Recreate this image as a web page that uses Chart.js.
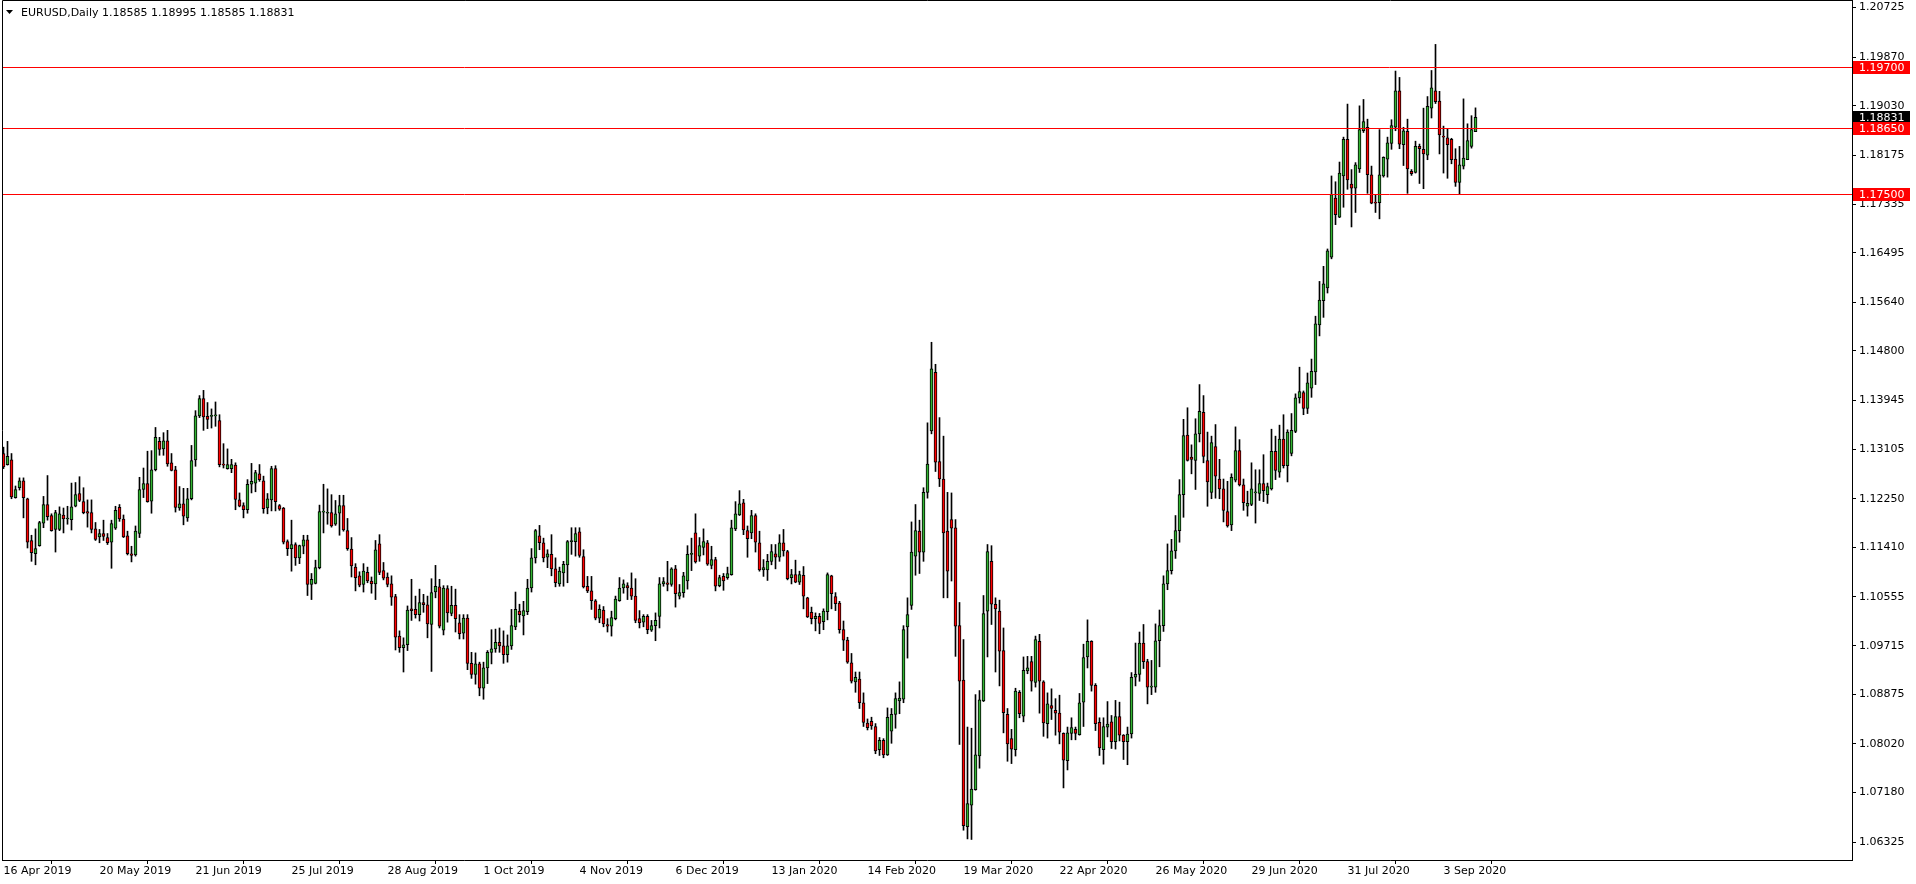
<!DOCTYPE html>
<html><head><meta charset="utf-8">
<script src="https://cdn.jsdelivr.net/npm/chart.js@4.4.1/dist/chart.umd.min.js"></script>
<style>html,body{margin:0;padding:0;background:#fff;overflow:hidden}#wrap{width:1916px;height:884px}</style>
</head><body><div id="wrap"><canvas id="c" width="1916" height="884"></canvas></div>
<script>
const symbolTitle = 'EURUSD,Daily';
const headerValues = '1.18585 1.18995 1.18585 1.18831';

const opens = [
1.1303,1.1284,1.1292,1.1227,1.1244,1.1256,1.1225,1.1153,1.1130,1.1144,
1.1183,1.1215,1.1196,1.1172,1.1172,1.1197,1.1190,1.1189,1.1212,1.1234,
1.1220,1.1203,1.1201,1.1173,1.1159,1.1165,1.1158,1.1150,1.1174,1.1210,
1.1190,1.1161,1.1130,1.1128,1.1165,1.1241,1.1251,1.1221,1.1275,1.1324,
1.1311,1.1325,1.1287,1.1275,1.1209,1.1216,1.1192,1.1225,1.1292,1.1368,
1.1398,1.1367,1.1367,1.1368,1.1360,1.1285,1.1277,1.1277,1.1283,1.1223,
1.1213,1.1206,1.1250,1.1252,1.1268,1.1256,1.1209,1.1223,1.1277,1.1213,
1.1209,1.1151,1.1139,1.1146,1.1123,1.1143,1.1154,1.1077,1.1079,1.1106,
1.1202,1.1200,1.1201,1.1181,1.1200,1.1213,1.1170,1.1138,1.1107,1.1092,
1.1077,1.1098,1.1083,1.1078,1.1147,1.1101,1.1090,1.1078,1.1056,1.0988,
1.0968,1.0973,1.1035,1.1034,1.1025,1.1046,1.1042,1.1008,1.1064,1.1073,
1.0998,1.1070,1.1027,1.1041,1.1011,1.0993,1.1019,1.0941,1.0922,1.0940,
1.0898,1.0933,1.0960,1.0966,1.0977,1.0971,1.0956,1.0971,1.1004,1.1031,
1.1023,1.1030,1.1071,1.1123,1.1161,1.1149,1.1124,1.1129,1.1104,1.1078,
1.1097,1.1111,1.1151,1.1151,1.1168,1.1125,1.1074,1.1066,1.1049,1.1019,
1.1033,1.1008,1.1005,1.1018,1.1049,1.1071,1.1075,1.1071,1.1057,1.1018,
1.1012,1.1022,1.0998,1.1006,1.1022,1.1078,1.1080,1.1077,1.1104,1.1057,
1.1063,1.1083,1.1129,1.1166,1.1126,1.1141,1.1149,1.1110,1.1120,1.1075,
1.1091,1.1089,1.1094,1.1173,1.1197,1.1218,1.1170,1.1166,1.1196,1.1149,
1.1102,1.1102,1.1117,1.1130,1.1124,1.1149,1.1134,1.1089,1.1094,1.1081,
1.1093,1.1054,1.1029,1.1018,1.1022,1.1013,1.1030,1.1092,1.1056,1.1045,
1.0999,1.0981,1.0942,1.0909,1.0914,1.0873,1.0838,1.0841,1.0832,1.0792,
1.0808,1.0783,1.0824,1.0853,1.0876,1.0879,1.1004,1.1041,1.1126,1.1169,
1.1133,1.1236,1.1342,1.1443,1.1289,1.1259,1.1169,1.1189,1.1175,1.1006,
1.0912,1.0659,1.0696,1.0723,1.0781,1.0876,1.1031,1.1117,1.1043,1.1031,
1.0963,1.0853,1.0811,1.0792,1.0891,1.0850,1.0928,1.0944,1.0908,1.0979,
1.0909,1.0837,1.0868,1.0860,1.0855,1.0820,1.0773,1.0820,1.0827,1.0818,
1.0874,1.0952,1.0979,1.0903,1.0839,1.0792,1.0831,1.0840,1.0806,1.0849,
1.0817,1.0806,1.0819,1.0917,1.0922,1.0976,1.0944,1.0900,1.0900,1.0980,
1.1006,1.1078,1.1101,1.1135,1.1170,1.1232,1.1335,1.1297,1.1291,1.1337,
1.1374,1.1291,1.1236,1.1315,1.1259,1.1242,1.1203,1.1180,1.1257,1.1308,
1.1249,1.1212,1.1215,1.1235,1.1234,1.1251,1.1232,1.1242,1.1307,1.1271,
1.1328,1.1282,1.1303,1.1341,1.1399,1.1408,1.1381,1.1416,1.1444,1.1525,
1.1567,1.1589,1.1642,1.1744,1.1711,1.1782,1.1845,1.1768,1.1761,1.1794,
1.1860,1.1866,1.1784,1.1736,1.1736,1.1782,1.1811,1.1838,1.1866,1.1929,
1.1836,1.1859,1.1790,1.1788,1.1833,1.1828,1.1818,1.1899,1.1929,1.1911,
1.1851,1.1848,1.1845,1.1811,1.1771,1.1799,1.1810,1.1833,1.18585];

const highs = [
1.1314,1.1324,1.1303,1.1247,1.1261,1.1261,1.1226,1.1162,1.1173,1.1186,
1.1229,1.1265,1.1199,1.1205,1.1211,1.1209,1.1212,1.1252,1.1253,1.1263,
1.1244,1.1223,1.1223,1.1184,1.1172,1.1188,1.1165,1.1188,1.1212,1.1215,
1.1197,1.1169,1.1143,1.1178,1.1262,1.1278,1.1307,1.1308,1.1348,1.1331,
1.1339,1.1343,1.1303,1.1281,1.1246,1.1243,1.1243,1.1317,1.1377,1.1403,
1.1412,1.1391,1.1380,1.1392,1.1370,1.1320,1.1311,1.1293,1.1287,1.1235,
1.1218,1.1258,1.1286,1.1274,1.1284,1.1264,1.1234,1.1281,1.1282,1.1215,
1.1210,1.1154,1.1188,1.1149,1.1145,1.1162,1.1162,1.1096,1.1119,1.1214,
1.1250,1.1242,1.1232,1.1222,1.1231,1.1231,1.1191,1.1158,1.1113,1.1099,
1.1113,1.1107,1.1090,1.1153,1.1163,1.1115,1.1097,1.1092,1.1060,1.0997,
1.0985,1.1040,1.1086,1.1057,1.1069,1.1060,1.1057,1.1087,1.1110,1.1086,
1.1075,1.1075,1.1074,1.1069,1.1025,1.1025,1.1025,1.0960,1.0959,1.0943,
1.0943,1.0963,1.0999,1.1000,1.1002,1.0997,1.0990,1.1034,1.1064,1.1043,
1.1048,1.1086,1.1139,1.1172,1.1179,1.1157,1.1137,1.1163,1.1123,1.1107,
1.1117,1.1153,1.1175,1.1175,1.1175,1.1137,1.1091,1.1091,1.1051,1.1042,
1.1039,1.1018,1.1031,1.1057,1.1089,1.1085,1.1080,1.1097,1.1087,1.1032,
1.1025,1.1025,1.1015,1.1028,1.1089,1.1089,1.1117,1.1106,1.1110,1.1077,
1.1098,1.1144,1.1157,1.1199,1.1158,1.1173,1.1153,1.1143,1.1124,1.1093,
1.1096,1.1107,1.1188,1.1220,1.1239,1.1224,1.1178,1.1205,1.1199,1.1169,
1.1120,1.1129,1.1146,1.1146,1.1163,1.1172,1.1136,1.1103,1.1119,1.1100,
1.1108,1.1055,1.1038,1.1028,1.1027,1.1035,1.1097,1.1093,1.1063,1.1048,
1.1014,1.0986,1.0958,1.0926,1.0926,1.0890,1.0845,1.0848,1.0837,1.0813,
1.0811,1.0864,1.0863,1.0890,1.0909,1.1006,1.1054,1.1185,1.1215,1.1188,
1.1244,1.1356,1.1495,1.1457,1.1365,1.1333,1.1236,1.1235,1.1189,1.1046,
1.0982,1.0831,1.0829,1.0887,1.0894,1.1058,1.1146,1.1144,1.1054,1.1050,
1.1002,1.0863,1.0827,1.0898,1.0894,1.0952,1.0953,1.0953,1.0988,1.0991,
1.0911,1.0890,1.0897,1.0880,1.0886,1.0821,1.0831,1.0847,1.0831,1.0889,
1.0974,1.1016,1.0980,1.0906,1.0847,1.0847,1.0875,1.0851,1.0877,1.0874,
1.0818,1.0831,1.0925,1.0976,1.0995,1.1008,1.0948,1.0946,1.1009,1.1033,
1.1092,1.1147,1.1155,1.1196,1.1258,1.1362,1.1382,1.1318,1.1363,1.1422,
1.1403,1.1340,1.1333,1.1353,1.1293,1.1259,1.1255,1.1268,1.1349,1.1327,
1.1259,1.1238,1.1287,1.1275,1.1275,1.1301,1.1252,1.1345,1.1333,1.1352,
1.1370,1.1344,1.1372,1.1406,1.1452,1.1411,1.1442,1.1466,1.1540,1.1600,
1.1626,1.1656,1.1782,1.1772,1.1806,1.1849,1.1906,1.1793,1.1805,1.1903,
1.1914,1.1880,1.1799,1.1749,1.1862,1.1815,1.1849,1.1879,1.1963,1.1952,
1.1866,1.1880,1.1793,1.1842,1.1837,1.1899,1.1919,1.1964,1.2009,1.1928,
1.1868,1.1863,1.1847,1.1829,1.1833,1.1915,1.1872,1.1886,1.18995];

const lows = [
1.1277,1.1283,1.1225,1.1226,1.1240,1.1192,1.1140,1.1117,1.1111,1.1143,
1.1175,1.1188,1.1169,1.1133,1.1170,1.1166,1.1181,1.1171,1.1211,1.1220,
1.1199,1.1176,1.1166,1.1153,1.1149,1.1153,1.1146,1.1105,1.1172,1.1186,
1.1158,1.1128,1.1116,1.1126,1.1158,1.1227,1.1219,1.1200,1.1273,1.1300,
1.1300,1.1281,1.1273,1.1202,1.1205,1.1180,1.1186,1.1223,1.1281,1.1365,
1.1343,1.1346,1.1347,1.1350,1.1280,1.1278,1.1276,1.1270,1.1206,1.1211,
1.1192,1.1200,1.1235,1.1237,1.1255,1.1200,1.1199,1.1204,1.1204,1.1205,
1.1147,1.1127,1.1100,1.1110,1.1113,1.1130,1.1058,1.1051,1.1078,1.1104,
1.1166,1.1181,1.1176,1.1179,1.1162,1.1169,1.1136,1.1090,1.1066,1.1073,
1.1064,1.1080,1.1062,1.1051,1.1094,1.1085,1.1073,1.1041,1.0964,1.0960,
1.0926,1.0963,1.1015,1.1019,1.1014,1.1029,1.0985,1.0927,1.1054,1.1002,
1.0990,1.1012,1.1023,1.0995,1.0983,1.0983,1.0930,1.0915,1.0905,1.0885,
1.0879,1.0906,1.0940,1.0960,1.0960,1.0941,1.0943,1.0965,1.0999,1.1012,
1.0990,1.1025,1.1064,1.1114,1.1137,1.1116,1.1106,1.1092,1.1073,1.1074,
1.1074,1.1080,1.1129,1.1126,1.1124,1.1071,1.1063,1.1034,1.1016,1.1011,
1.1004,1.0995,1.0988,1.1016,1.1048,1.1062,1.1051,1.1051,1.1011,1.1002,
1.1004,1.0992,1.0996,1.0980,1.1002,1.1074,1.1066,1.1074,1.1038,1.1052,
1.1055,1.1069,1.1101,1.1114,1.1117,1.1128,1.1110,1.1104,1.1066,1.1073,
1.1067,1.1086,1.1093,1.1170,1.1196,1.1163,1.1124,1.1156,1.1133,1.1100,
1.1091,1.1084,1.1111,1.1104,1.1117,1.1126,1.1085,1.1078,1.1080,1.1077,
1.1035,1.1020,1.1009,1.0997,1.0992,1.0999,1.1016,1.1035,1.1032,1.0993,
1.0963,1.0941,1.0907,1.0891,1.0863,1.0832,1.0826,1.0827,1.0785,1.0782,
1.0778,1.0782,1.0803,1.0829,1.0854,1.0873,1.0950,1.1034,1.1093,1.1096,
1.1117,1.1226,1.1337,1.1272,1.1246,1.1054,1.1054,1.1083,1.0953,1.0801,
1.0653,1.0638,1.0637,1.0722,1.0760,1.0875,1.0952,1.1008,1.0926,1.0902,
1.0821,1.0772,1.0768,1.0781,1.0847,1.0840,1.0923,1.0893,1.0900,1.0855,
1.0815,1.0812,1.0844,1.0817,1.0802,1.0726,1.0757,1.0809,1.0809,1.0817,
1.0832,1.0933,1.0893,1.0825,1.0782,1.0767,1.0814,1.0794,1.0793,1.0807,
1.0775,1.0766,1.0812,1.0902,1.0910,1.0932,1.0871,1.0887,1.0891,1.0935,
1.0996,1.1068,1.1095,1.1122,1.1150,1.1193,1.1290,1.1268,1.1241,1.1323,
1.1287,1.1212,1.1225,1.1226,1.1225,1.1185,1.1176,1.1170,1.1254,1.1247,
1.1205,1.1195,1.1213,1.1183,1.1222,1.1220,1.1217,1.1240,1.1258,1.1262,
1.1278,1.1254,1.1299,1.1339,1.1390,1.1370,1.1372,1.1400,1.1422,1.1506,
1.1538,1.1580,1.1639,1.1698,1.1710,1.1728,1.1759,1.1694,1.1719,1.1788,
1.1857,1.1752,1.1734,1.1719,1.1708,1.1780,1.1780,1.1828,1.1860,1.1829,
1.1800,1.1752,1.1783,1.1787,1.1769,1.1760,1.1810,1.1882,1.1907,1.1820,
1.1787,1.1778,1.1803,1.1764,1.1751,1.1794,1.1810,1.1830,1.18585];

const closes = [
1.1280,1.1298,1.1228,1.1241,1.1256,1.1227,1.1150,1.1132,1.1139,1.1184,
1.1215,1.1194,1.1170,1.1201,1.1199,1.1190,1.1190,1.1211,1.1232,1.1222,
1.1201,1.1200,1.1172,1.1155,1.1165,1.1160,1.1149,1.1182,1.1205,1.1190,
1.1159,1.1130,1.1127,1.1169,1.1241,1.1251,1.1220,1.1275,1.1331,1.1310,
1.1325,1.1285,1.1274,1.1210,1.1216,1.1195,1.1225,1.1291,1.1368,1.1398,
1.1366,1.1362,1.1368,1.1368,1.1284,1.1283,1.1284,1.1284,1.1224,1.1212,
1.1206,1.1250,1.1255,1.1270,1.1258,1.1208,1.1225,1.1277,1.1220,1.1207,
1.1150,1.1139,1.1146,1.1123,1.1144,1.1154,1.1077,1.1086,1.1106,1.1203,
1.1203,1.1201,1.1178,1.1199,1.1213,1.1171,1.1139,1.1109,1.1089,1.1076,
1.1100,1.1083,1.1078,1.1137,1.1098,1.1088,1.1077,1.1055,1.0986,1.0968,
1.0973,1.1033,1.1032,1.1025,1.1046,1.1042,1.1009,1.1063,1.1074,1.1005,
1.1071,1.1028,1.1041,1.1018,1.0992,1.1019,1.0941,1.0922,1.0940,1.0898,
1.0933,1.0960,1.0966,1.0977,1.0971,1.0956,1.0971,1.1006,1.1034,1.1025,
1.1032,1.1071,1.1123,1.1170,1.1149,1.1123,1.1130,1.1104,1.1080,1.1100,
1.1112,1.1151,1.1153,1.1165,1.1127,1.1073,1.1066,1.1049,1.1019,1.1034,
1.1009,1.1005,1.1020,1.1052,1.1071,1.1078,1.1071,1.1057,1.1015,1.1011,
1.1022,1.0999,1.1006,1.1015,1.1078,1.1082,1.1077,1.1104,1.1061,1.1063,
1.1092,1.1129,1.1130,1.1116,1.1144,1.1151,1.1112,1.1120,1.1074,1.1089,
1.1083,1.1096,1.1175,1.1199,1.1216,1.1171,1.1156,1.1196,1.1150,1.1102,
1.1106,1.1117,1.1134,1.1124,1.1149,1.1135,1.1087,1.1094,1.1081,1.1094,
1.1057,1.1021,1.1018,1.1022,1.1010,1.1031,1.1094,1.1061,1.1044,1.0999,
1.0981,1.0943,1.0910,1.0917,1.0873,1.0839,1.0830,1.0833,1.0790,1.0808,
1.0783,1.0848,1.0853,1.0880,1.0881,1.0999,1.1025,1.1133,1.1170,1.1133,
1.1236,1.1285,1.1449,1.1288,1.1259,1.1166,1.1100,1.1174,1.1005,1.0910,
1.0661,1.0699,1.0724,1.0783,1.0878,1.1027,1.1134,1.1043,1.1035,1.0962,
1.0856,1.0802,1.0793,1.0893,1.0854,1.0929,1.0933,1.0910,1.0982,1.0910,
1.0838,1.0871,1.0863,1.0855,1.0822,1.0774,1.0821,1.0830,1.0820,1.0873,
1.0951,1.0979,1.0903,1.0837,1.0795,1.0832,1.0836,1.0806,1.0849,1.0817,
1.0806,1.0819,1.0917,1.0922,1.0976,1.0944,1.0900,1.0900,1.0980,1.1006,
1.1078,1.1101,1.1135,1.1170,1.1232,1.1334,1.1291,1.1293,1.1337,1.1376,
1.1298,1.1254,1.1322,1.1264,1.1242,1.1205,1.1178,1.1262,1.1308,1.1249,
1.1218,1.1217,1.1242,1.1236,1.1251,1.1239,1.1246,1.1307,1.1274,1.1328,
1.1282,1.1340,1.1343,1.1399,1.1410,1.1381,1.1425,1.1445,1.1527,1.1568,
1.1596,1.1653,1.1750,1.1715,1.1787,1.1845,1.1775,1.1761,1.1801,1.1862,
1.1876,1.1784,1.1735,1.1735,1.1784,1.1814,1.1839,1.1869,1.1929,1.1837,
1.1860,1.1794,1.1786,1.1833,1.1829,1.1820,1.1902,1.1934,1.1910,1.1853,
1.1849,1.1836,1.1810,1.1771,1.1801,1.1813,1.1843,1.1862,1.18831];

const dateLabels = ['16 Apr 2019','20 May 2019','21 Jun 2019','25 Jul 2019','28 Aug 2019','1 Oct 2019','4 Nov 2019','6 Dec 2019','13 Jan 2020','14 Feb 2020','19 Mar 2020','22 Apr 2020','26 May 2020','29 Jun 2020','31 Jul 2020','3 Sep 2020'];
const dateLabelBars = [0,24,48,72,96,120,144,168,192,216,240,264,288,312,336,360];
const priceTicks = [1.20725,1.19870,1.19030,1.18175,1.17335,1.16495,1.15640,1.14800,1.13945,1.13105,1.12250,1.11410,1.10555,1.09715,1.08875,1.08020,1.07180,1.06325];
const levelLines = [1.19700,1.18650,1.17500];
const lastPrice = 1.18831;

const UP = '#32B432', DOWN = '#FF0000';
const FONT = '"DejaVu Sans", Verdana, sans-serif';

const idx = opens.map((_, i) => i);
const wickData = idx.map(i => ({x: i, y: [lows[i], highs[i]]}));
const bodyData = idx.map(i => ({x: i, y: [opens[i], closes[i]]}));
const bodyColors = idx.map(i => closes[i] >= opens[i] ? UP : DOWN);

const mtPlugin = {
  id: 'mt',
  afterDatasetsDraw(chart) {
    const {ctx, chartArea: a, scales: {y}} = chart;
    ctx.save();
    ctx.strokeStyle = '#FF0000'; ctx.lineWidth = 1;
    levelLines.forEach(v => {
      const py = Math.round(y.getPixelForValue(v)) + 0.5;
      ctx.beginPath(); ctx.moveTo(a.left, py); ctx.lineTo(a.right, py); ctx.stroke();
    });
    ctx.restore();
  },
  afterDraw(chart) {
    const {ctx, chartArea: a, scales: {y}} = chart;
    ctx.save();
    ctx.strokeStyle = '#000'; ctx.lineWidth = 1;
    ctx.beginPath();
    ctx.moveTo(a.left + 0.5, a.bottom); ctx.lineTo(a.left + 0.5, 0.5); ctx.lineTo(a.right + 1, 0.5);
    ctx.stroke();
    ctx.font = '11px ' + FONT;
    ctx.textBaseline = 'middle';
    const tag = (v, bg) => {
      const cy = Math.round(y.getPixelForValue(v));
      ctx.fillStyle = bg; ctx.fillRect(a.right + 1, cy - 6, 57, 13);
      ctx.fillStyle = '#fff'; ctx.fillText(v.toFixed(5), a.right + 7, cy + 1);
    };
    tag(lastPrice, '#000');
    levelLines.forEach(v => tag(v, '#FF0000'));
    ctx.fillStyle = '#000';
    ctx.beginPath(); ctx.moveTo(6, 10); ctx.lineTo(13, 10); ctx.lineTo(9.5, 14); ctx.closePath(); ctx.fill();
    ctx.fillText(symbolTitle, 21, 13);
    ctx.fillText(headerValues, 102, 13);
    ctx.restore();
  }
};

new Chart(document.getElementById('c'), {
  type: 'bar',
  data: {datasets: [
    {data: wickData, backgroundColor: '#000', borderWidth: 0, barThickness: 1, grouped: false, order: 2},
    {data: bodyData, backgroundColor: bodyColors, borderColor: '#000', borderWidth: 1, borderSkipped: false,
     barThickness: 3, grouped: false, minBarLength: 1, order: 1}
  ]},
  options: {
    responsive: false, animation: false, devicePixelRatio: 1,
    layout: {padding: {left: 2, top: 1, right: 0, bottom: 0}},
    plugins: {legend: {display: false}, tooltip: {enabled: false}, title: {display: false}},
    events: [],
    scales: {
      x: {
        type: 'linear', min: -0.375, max: 462.125, offset: false,
        afterBuildTicks: s => { s.ticks = dateLabelBars.map(v => ({value: v})); },
        afterFit: s => { s.height = 24; s.paddingLeft = 0; s.paddingRight = 0; },
        ticks: {autoSkip: false, maxRotation: 0, minRotation: 0, align: 'start', padding: 1, color: '#000',
                font: {family: FONT, size: 11},
                callback: v => { const k = dateLabelBars.indexOf(v); return k >= 0 ? dateLabels[k] : ''; }},
        grid: {drawOnChartArea: false, drawTicks: true, tickLength: 4, color: '#000'},
        border: {display: true, color: '#000', width: 1}
      },
      y: {
        type: 'linear', position: 'right', min: 1.06016, max: 1.20839,
        afterBuildTicks: s => { s.ticks = priceTicks.map(v => ({value: v})); },
        afterFit: s => { s.width = 64; s.paddingTop = 0; s.paddingBottom = 0; },
        ticks: {padding: 3, color: '#000', font: {family: FONT, size: 11}, callback: v => Number(v).toFixed(5)},
        grid: {drawOnChartArea: false, drawTicks: true, tickLength: 4, color: '#000'},
        border: {display: true, color: '#000', width: 1}
      }
    }
  },
  plugins: [mtPlugin]
});
</script>
</body></html>
